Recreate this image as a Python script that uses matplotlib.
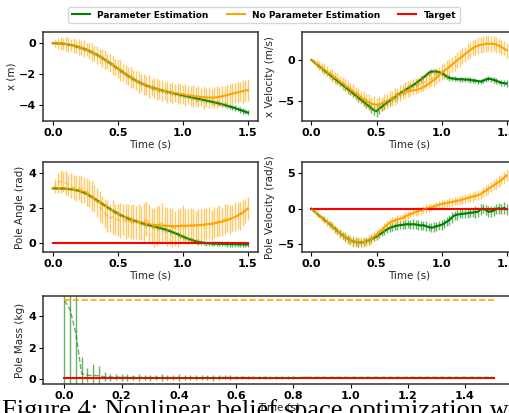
import numpy as np
import matplotlib
matplotlib.use("Agg")
import matplotlib.pyplot as plt

# ---------------------------------------------------------------- data
TIME = np.linspace(0.0, 1.5, 76)

# cart position (m)
X_GREEN = [0, 0, -0.01, -0.02, -0.03, -0.05, -0.08, -0.11, -0.15, -0.2,
           -0.25, -0.3, -0.36, -0.42, -0.5, -0.58, -0.66, -0.75, -0.85, -0.95,
           -1.06, -1.17, -1.28, -1.4, -1.52, -1.64, -1.76, -1.88, -2.0, -2.11,
           -2.22, -2.32, -2.42, -2.51, -2.59, -2.67, -2.74, -2.8, -2.86, -2.91,
           -2.96, -3.01, -3.06, -3.1, -3.14, -3.18, -3.22, -3.26, -3.3, -3.34,
           -3.38, -3.42, -3.45, -3.49, -3.53, -3.57, -3.6, -3.64, -3.68, -3.72,
           -3.75, -3.79, -3.83, -3.87, -3.91, -3.95, -4.0, -4.05, -4.1, -4.15,
           -4.2, -4.26, -4.32, -4.38, -4.44, -4.5]
X_ORANGE = [0, 0, -0.01, -0.02, -0.03, -0.05, -0.08, -0.11, -0.15, -0.2,
            -0.25, -0.3, -0.36, -0.42, -0.5, -0.58, -0.66, -0.75, -0.85, -0.95,
            -1.06, -1.17, -1.28, -1.4, -1.52, -1.64, -1.76, -1.88, -2.0, -2.11,
            -2.22, -2.32, -2.42, -2.51, -2.59, -2.67, -2.74, -2.8, -2.86, -2.91,
            -2.96, -3.01, -3.06, -3.1, -3.14, -3.17, -3.2, -3.23, -3.26, -3.29,
            -3.32, -3.35, -3.37, -3.4, -3.42, -3.44, -3.46, -3.48, -3.5, -3.51,
            -3.52, -3.52, -3.52, -3.5, -3.47, -3.44, -3.4, -3.36, -3.31, -3.27,
            -3.23, -3.19, -3.15, -3.11, -3.07, -3.04]
X_GREEN_STD = [0, .03, .05, .06, .07, .08, .08, .09, .1, .1,
               .11, .1, .12, .11, .12, .13, .12, .13, .12, .14,
               .13, .12, .13, .14, .13, .12, .14, .13, .12, .13,
               .14, .12, .13, .12, .14, .13, .12, .13, .14, .12,
               .13, .12, .14, .13, .12, .13, .14, .13, .12, .14,
               .13, .14, .15, .14, .13, .15, .14, .15, .16, .15,
               .14, .16, .15, .16, .17, .15, .16, .17, .16, .17,
               .18, .16, .17, .18, .17, .18]
X_ORANGE_STD = [0, .25, .35, .42, .38, .45, .5, .4, .48, .44,
                .5, .46, .55, .42, .52, .58, .48, .6, .5, .56,
                .62, .5, .58, .66, .52, .6, .7, .55, .64, .58,
                .68, .56, .62, .7, .58, .66, .6, .72, .56, .64,
                .7, .6, .66, .58, .72, .62, .68, .56, .7, .64,
                .6, .72, .58, .66, .7, .62, .68, .6, .74, .64,
                .7, .58, .66, .72, .62, .68, .6, .7, .64, .72,
                .66, .7, .62, .74, .68, .7]

# cart velocity (m/s)
VX_GREEN = [0, -0.26, -0.52, -0.78, -1.03, -1.29, -1.55, -1.8, -2.06, -2.32,
            -2.58, -2.83, -3.09, -3.35, -3.6, -3.86, -4.12, -4.38, -4.63, -4.89,
            -5.15, -5.4, -5.66, -5.92, -6.18, -6.3, -6.0, -5.75, -5.5, -5.25,
            -5.0, -4.78, -4.56, -4.34, -4.12, -3.9, -3.7, -3.5, -3.3, -3.1,
            -2.9, -2.65, -2.4, -2.15, -1.9, -1.6, -1.45, -1.4, -1.42, -1.5,
            -1.6, -1.8, -2.05, -2.2, -2.28, -2.3, -2.35, -2.38, -2.36, -2.42,
            -2.4, -2.45, -2.5, -2.55, -2.6, -2.65, -2.55, -2.4, -2.3, -2.35,
            -2.45, -2.55, -2.7, -2.8, -2.85, -2.9]
VX_ORANGE = [0, -0.24, -0.48, -0.72, -0.96, -1.2, -1.44, -1.68, -1.92, -2.16,
             -2.4, -2.64, -2.88, -3.12, -3.36, -3.6, -3.84, -4.08, -4.32, -4.56,
             -4.8, -5.0, -5.2, -5.35, -5.45, -5.5, -5.45, -5.35, -5.2, -5.05,
             -4.9, -4.72, -4.55, -4.38, -4.22, -4.08, -3.95, -3.85, -3.78, -3.74,
             -3.7, -3.62, -3.5, -3.35, -3.15, -2.95, -2.7, -2.45, -2.2, -1.9,
             -1.6, -1.35, -1.1, -0.85, -0.58, -0.3, -0.05, 0.2, 0.45, 0.72,
             0.98, 1.22, 1.45, 1.62, 1.75, 1.85, 1.92, 1.97, 2.0, 2.0,
             1.98, 1.9, 1.75, 1.58, 1.4, 1.2]
VX_ORANGE_MEAN = [0, -0.2, -0.5, -0.7, -1.0, -1.15, -1.45, -1.7, -1.9, -2.2,
                  -2.35, -2.65, -2.9, -3.1, -3.4, -3.55, -3.85, -4.1, -4.3, -4.6,
                  -4.75, -5.05, -5.15, -5.4, -5.4, -5.55, -5.4, -5.4, -5.15, -5.1,
                  -4.85, -4.75, -4.5, -4.4, -4.1, -3.9, -3.7, -3.55, -3.45, -3.35,
                  -3.2, -3.1, -2.95, -2.85, -2.65, -2.5, -2.3, -2.15, -1.95, -1.75,
                  -1.5, -1.35, -1.05, -0.9, -0.55, -0.35, 0.0, 0.15, 0.5, 0.7,
                  1.0, 1.2, 1.5, 1.6, 1.8, 1.85, 1.95, 1.95, 2.05, 1.95,
                  2.0, 1.85, 1.8, 1.55, 1.45, 1.15]
VX_GREEN_STD = [0, .15, .2, .25, .3, .3, .35, .3, .35, .4,
                .35, .4, .38, .42, .4, .45, .4, .45, .5, .45,
                .5, .55, .5, .6, .55, .65, .6, .5, .55, .45,
                .5, .4, .45, .4, .45, .38, .42, .4, .35, .4,
                .38, .35, .4, .36, .3, .35, .32, .3, .34, .3,
                .32, .35, .3, .34, .3, .32, .28, .32, .3, .34,
                .3, .32, .28, .34, .3, .36, .32, .3, .34, .3,
                .32, .35, .3, .34, .38, .4]
VX_ORANGE_STD = [0, .3, .45, .55, .6, .65, .7, .65, .75, .7,
                 .78, .72, .8, .75, .82, .78, .85, .8, .88, .82,
                 .9, .85, .92, .88, .95, .9, .92, .88, .95, .9,
                 .98, .92, 1.0, .94, .98, .92, 1.0, .95, 1.02, .96,
                 1.0, .94, .98, 1.02, .96, 1.0, .95, 1.02, .98, .94,
                 1.0, .96, 1.02, .98, .94, 1.0, .96, 1.02, .98, .95,
                 1.0, .96, .92, .98, 1.02, .96, 1.0, .94, .98, .95,
                 .92, .96, .9, .94, .88, .9]

# pole angle (rad)
ANG_GREEN = [3.14, 3.14, 3.14, 3.13, 3.13, 3.12, 3.11, 3.09, 3.07, 3.04,
             3.0, 2.95, 2.89, 2.82, 2.74, 2.65, 2.56, 2.46, 2.36, 2.26,
             2.16, 2.06, 1.96, 1.87, 1.78, 1.7, 1.62, 1.55, 1.48, 1.42,
             1.36, 1.31, 1.26, 1.21, 1.17, 1.12, 1.08, 1.04, 1.0, 0.96,
             0.92, 0.88, 0.84, 0.8, 0.75, 0.7, 0.64, 0.58, 0.52, 0.45,
             0.38, 0.32, 0.26, 0.21, 0.16, 0.11, 0.08, 0.05, 0.03, 0.01,
             0.0, -0.01, -0.02, -0.02, -0.03, -0.03, -0.04, -0.04, -0.05, -0.05,
             -0.05, -0.06, -0.06, -0.06, -0.07, -0.07]
ANG_ORANGE = [3.14, 3.14, 3.14, 3.13, 3.13, 3.12, 3.11, 3.09, 3.07, 3.04,
              3.0, 2.95, 2.89, 2.82, 2.74, 2.65, 2.56, 2.46, 2.36, 2.26,
              2.16, 2.06, 1.96, 1.87, 1.78, 1.7, 1.62, 1.55, 1.48, 1.42,
              1.36, 1.31, 1.27, 1.23, 1.19, 1.15, 1.12, 1.09, 1.07, 1.05,
              1.03, 1.02, 1.01, 1.0, 0.99, 0.99, 0.99, 0.99, 0.99, 1.0,
              1.0, 1.0, 1.01, 1.01, 1.02, 1.03, 1.04, 1.05, 1.06, 1.08,
              1.1, 1.12, 1.14, 1.17, 1.2, 1.24, 1.28, 1.33, 1.38, 1.44,
              1.5, 1.58, 1.67, 1.77, 1.88, 2.0]
ANG_ORANGE_MEAN = [3.14, 3.3, 3.45, 3.55, 3.52, 3.45, 3.35, 3.3, 3.22, 3.18,
                   3.15, 3.1, 3.05, 2.95, 2.85, 2.7, 2.55, 2.35, 2.1, 1.9,
                   1.7, 1.55, 1.45, 1.5, 1.38, 1.35, 1.3, 1.36, 1.25, 1.28,
                   1.22, 1.25, 1.18, 1.22, 1.15, 1.2, 1.42, 1.15, 0.98, 0.92,
                   1.0, 1.1, 1.18, 1.05, 0.98, 0.95, 0.9, 0.85, 0.88, 1.0,
                   1.12, 0.98, 0.92, 1.05, 0.98, 0.95, 1.02, 1.08, 1.0, 1.12,
                   1.15, 1.05, 1.18, 1.22, 1.3, 1.25, 1.38, 1.45, 1.35, 1.42,
                   1.52, 1.6, 1.55, 1.72, 1.85, 2.0]
ANG_GREEN_STD = [0, .02, .03, .04, .04, .05, .05, .06, .06, .07,
                 .07, .08, .08, .08, .09, .09, .1, .1, .1, .11,
                 .1, .11, .12, .11, .12, .12, .11, .12, .13, .12,
                 .12, .13, .12, .13, .12, .13, .14, .13, .12, .13,
                 .14, .13, .12, .14, .13, .14, .12, .13, .14, .13,
                 .14, .13, .14, .15, .14, .13, .15, .14, .13, .15,
                 .14, .15, .13, .14, .15, .14, .13, .15, .14, .15,
                 .14, .13, .15, .14, .15, .14]
ANG_ORANGE_STD = [0, .4, .55, .65, .6, .7, .62, .72, .66, .75,
                  .7, .78, .72, .8, .76, .85, .78, .82, .88, .8,
                  .85, .9, .82, .95, .88, .92, .98, .9, 1.0, .94,
                  .98, 1.02, .95, 1.05, .98, 1.08, 1.0, 1.1, 1.04, 1.12,
                  1.15, 1.05, 1.1, 1.0, 1.12, 1.06, 1.1, 1.02, 1.08, 1.0,
                  1.05, .98, 1.02, .95, 1.0, .92, .96, .9, .94, .88,
                  .92, .86, .9, .84, .88, .82, .86, .8, .84, .78,
                  .82, .76, .8, .74, .7, .65]

# pole angular velocity (rad/s)
PV_GREEN = [0, -0.35, -0.7, -1.0, -1.3, -1.6, -1.9, -2.2, -2.5, -2.85,
            -3.2, -3.5, -3.8, -4.05, -4.3, -4.5, -4.65, -4.75, -4.8, -4.8,
            -4.75, -4.65, -4.5, -4.35, -4.15, -3.95, -3.7, -3.45, -3.2, -2.95,
            -2.75, -2.6, -2.5, -2.4, -2.35, -2.3, -2.25, -2.2, -2.25, -2.2,
            -2.25, -2.3, -2.4, -2.35, -2.5, -2.6, -2.7, -2.65, -2.5, -2.4,
            -2.3, -2.1, -1.85, -1.6, -1.25, -0.95, -0.85, -0.8, -0.75, -0.7,
            -0.65, -0.6, -0.55, -0.5, -0.45, -0.1, 0.0, -0.2, -0.45, -0.4,
            -0.3, -0.05, 0.05, -0.1, 0.1, -0.1]
PV_ORANGE = [0, -0.35, -0.7, -1.0, -1.3, -1.6, -1.9, -2.2, -2.5, -2.85,
             -3.2, -3.5, -3.8, -4.05, -4.3, -4.5, -4.65, -4.75, -4.8, -4.8,
             -4.75, -4.65, -4.5, -4.35, -4.0, -3.7, -3.35, -3.0, -2.65, -2.3,
             -2.0, -1.85, -1.7, -1.55, -1.45, -1.3, -1.15, -0.95, -0.8, -0.65,
             -0.5, -0.38, -0.25, -0.12, 0.0, 0.1, 0.2, 0.3, 0.4, 0.55,
             0.65, 0.72, 0.8, 0.88, 0.95, 1.02, 1.1, 1.18, 1.28, 1.38,
             1.5, 1.6, 1.7, 1.8, 1.9, 2.05, 2.3, 2.55, 2.8, 3.05,
             3.3, 3.55, 3.8, 4.05, 4.35, 4.7]
PV_GREEN_STD = [0, .15, .2, .25, .3, .35, .35, .4, .4, .45,
                .45, .5, .5, .55, .5, .55, .6, .55, .6, .55,
                .6, .55, .5, .55, .5, .45, .5, .45, .5, .45,
                .5, .55, .5, .6, .55, .6, .65, .6, .65, .7,
                .65, .7, .6, .65, .7, .6, .65, .7, .65, .6,
                .7, .65, .6, .7, .75, .65, .7, .6, .65, .7,
                .75, .65, .7, .8, .7, .75, .65, .7, .75, .8,
                .7, .75, .8, .7, .85, .75]
PV_ORANGE_STD = [0, .2, .3, .4, .45, .5, .55, .5, .6, .55,
                 .6, .65, .6, .7, .65, .7, .75, .7, .75, .8,
                 .75, .7, .75, .7, .65, .7, .65, .6, .65, .6,
                 .55, .6, .55, .6, .5, .55, .6, .55, .5, .55,
                 .6, .55, .5, .55, .6, .55, .5, .55, .6, .55,
                 .6, .55, .6, .65, .6, .55, .6, .65, .6, .65,
                 .6, .65, .7, .65, .7, .65, .7, .75, .7, .75,
                 .7, .75, .8, .75, .8, .75]

# pole mass estimate (kg)
MASS_GREEN = [5.0, 4.4, 2.9, 0.35, 0.25, 0.24, 0.22, 0.16, 0.14, 0.13,
              0.13, 0.12, 0.12, 0.12, 0.11, 0.11, 0.11, 0.11, 0.11, 0.11,
              0.11, 0.1, 0.11, 0.1, 0.1, 0.11, 0.1, 0.11, 0.12, 0.11,
              0.11, 0.12, 0.11, 0.11, 0.1, 0.11, 0.1, 0.1, 0.11, 0.1,
              0.11, 0.11, 0.12, 0.12, 0.12, 0.12, 0.12, 0.12, 0.12, 0.12,
              0.12, 0.12, 0.12, 0.12, 0.12, 0.12, 0.12, 0.12, 0.12, 0.12,
              0.12, 0.12, 0.12, 0.12, 0.12, 0.12, 0.12, 0.12, 0.12, 0.12,
              0.12, 0.12, 0.12, 0.12, 0.12, 0.12]
MASS_GREEN_STD = [8.0, 6.5, 5.5, 1.05, 0.45, 0.7, 0.6, 0.3, 0.22, 0.2,
                  0.22, 0.2, 0.18, 0.2, 0.17, 0.19, 0.16, 0.25, 0.15, 0.17,
                  0.24, 0.15, 0.16, 0.14, 0.15, 0.13, 0.18, 0.14, 0.12, 0.13,
                  0.12, 0.11, 0.1, 0.11, 0.1, 0.09, 0.1, 0.08, 0.09, 0.08,
                  0.07, 0.06, 0.06, 0.05, 0.05, 0.05, 0.04, 0.04, 0.04, 0.04,
                  0.03, 0.03, 0.03, 0.03, 0.03, 0.03, 0.03, 0.03, 0.03, 0.03,
                  0.03, 0.03, 0.03, 0.03, 0.03, 0.03, 0.03, 0.03, 0.03, 0.03,
                  0.03, 0.03, 0.03, 0.03, 0.03, 0.03]
MASS_ORANGE = [5.0] * 76

TARGET_ANGLE = 0.0
TARGET_POLE_VEL = 0.0
TRUE_MASS = 0.1

LABELS = ["Parameter Estimation", "No Parameter Estimation", "Target"]
GREEN, ORANGE, RED = "green", "orange", "red"

# ---------------------------------------------------------------- figure
# bold by default (tick labels, legend); axis labels and caption override it
plt.rcParams["font.weight"] = "bold"

W, H = 509, 413
fig = plt.figure(figsize=(W / 100, H / 100), dpi=100)


def axes_px(left, top, right, bottom):
    return fig.add_axes([left / W, 1 - bottom / H, (right - left) / W,
                         (bottom - top) / H])


def style(ax, ylabel, yticks, ylim, xticks):
    ax.set_ylim(*ylim)
    ax.set_yticks(yticks)
    ax.set_xticks(xticks)
    ax.set_xlabel("Time (s)", fontsize=7.5, color="#262626", labelpad=1,
                  fontweight="normal")
    ax.set_ylabel(ylabel, fontsize=7.5, color="#262626", labelpad=2,
                  fontweight="normal")
    ax.tick_params(labelsize=8, length=3, width=0.8, pad=2)
    for sp in ax.spines.values():
        sp.set_color("#333333")
        sp.set_linewidth(1.1)


EB = dict(fmt="--", lw=1.0, elinewidth=1.0, alpha=0.6, capsize=0)


def state_panel(ax, g, g_mean, g_std, o, o_mean, o_std, target=None):
    ax.plot(TIME, g, color=GREEN, lw=1.5)
    ax.errorbar(TIME, g_mean, yerr=g_std, color=GREEN, **EB)
    ax.plot(TIME, o, color=ORANGE, lw=1.5)
    ax.errorbar(TIME, o_mean, yerr=o_std, color=ORANGE, **EB)
    if target is not None:
        ax.plot(TIME, [target] * len(TIME), color=RED, lw=1.5)


XT = [0.0, 0.5, 1.0, 1.5]

ax1 = axes_px(43, 32, 257.7, 121)
state_panel(ax1, X_GREEN, X_GREEN, X_GREEN_STD, X_ORANGE, X_ORANGE, X_ORANGE_STD)
style(ax1, "x (m)", [-4, -2, 0], (-5.04, 0.73), XT)

ax2 = axes_px(301.7, 32, 516.4, 121)
state_panel(ax2, VX_GREEN, VX_GREEN, VX_GREEN_STD, VX_ORANGE, VX_ORANGE_MEAN,
            VX_ORANGE_STD)
style(ax2, "x Velocity (m/s)", [-5, 0], (-7.5, 3.44), XT)

ax3 = axes_px(43, 162.3, 257.7, 251.7)
state_panel(ax3, ANG_GREEN, ANG_GREEN, ANG_GREEN_STD, ANG_ORANGE, ANG_ORANGE_MEAN,
            ANG_ORANGE_STD, TARGET_ANGLE)
style(ax3, "Pole Angle (rad)", [0, 2, 4], (-0.48, 4.63), XT)

ax4 = axes_px(301.7, 162.3, 516.4, 251.7)
state_panel(ax4, PV_GREEN, PV_GREEN, PV_GREEN_STD, PV_ORANGE, PV_ORANGE,
            PV_ORANGE_STD, TARGET_POLE_VEL)
style(ax4, "Pole Velocity (rad/s)", [-5, 0, 5], (-6.1, 6.55), XT)

ax5 = axes_px(43, 295.7, 515, 384.3)
ax5.errorbar(TIME, MASS_GREEN, yerr=MASS_GREEN_STD, color=GREEN, **EB)
ax5.errorbar(TIME, MASS_ORANGE, color=ORANGE, fmt="--", lw=1.2)
ax5.plot(TIME, [TRUE_MASS] * len(TIME), color=RED, lw=1.5)
style(ax5, "Pole Mass (kg)", [0, 2, 4], (-0.32, 5.3),
      [0.0, 0.2, 0.4, 0.6, 0.8, 1.0, 1.2, 1.4])

handles = [plt.Line2D([], [], color=c, lw=1.5) for c in (GREEN, ORANGE, RED)]
fig.legend(handles, LABELS, loc="upper center", ncol=3,
           bbox_to_anchor=(264 / W, 1 - 2.5 / H),
           prop={"size": 6.5, "weight": "bold"}, handlelength=2.0,
           columnspacing=2.0, borderpad=0.4, frameon=True)

fig.text(2 / W, 1 - 417.5 / H,
         "Figure 4: Nonlinear belief space optimization with",
         family="Liberation Serif", fontsize=19, ha="left", va="baseline",
         fontweight="normal")

fig.savefig("out.png", dpi=100)
